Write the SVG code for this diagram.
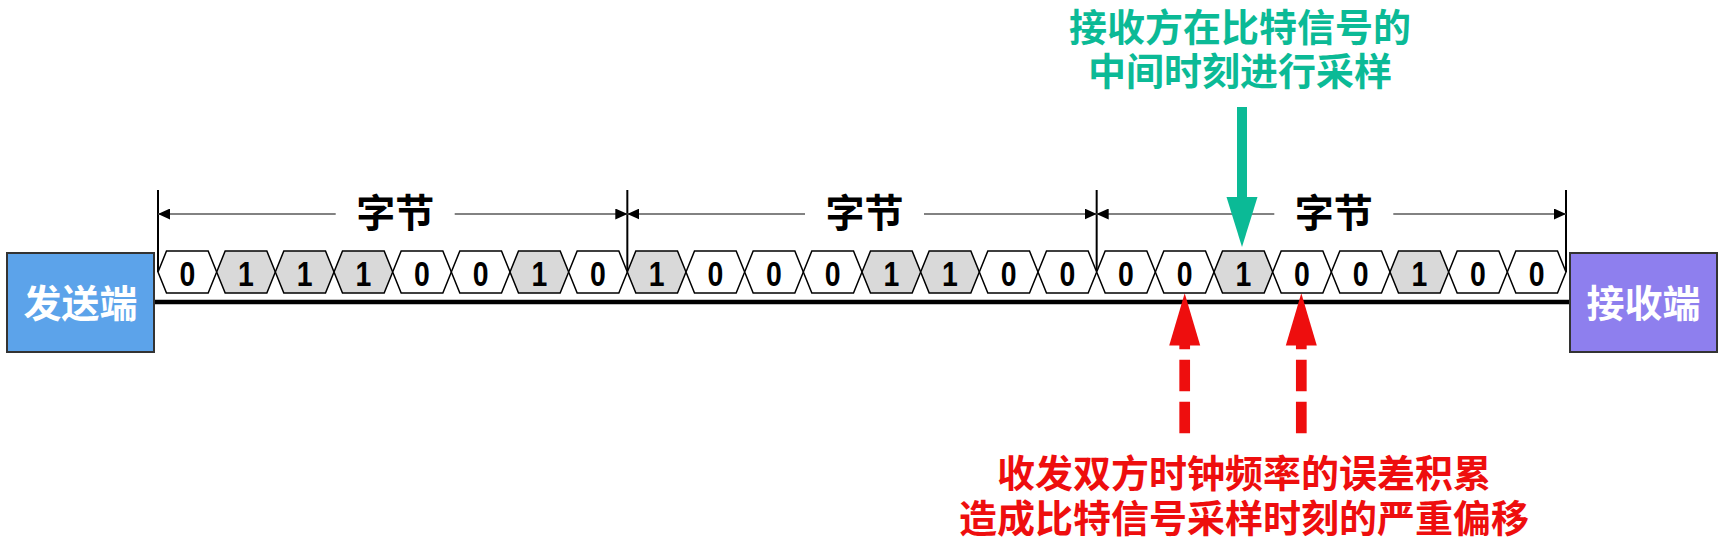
<svg xmlns="http://www.w3.org/2000/svg" xmlns:xlink="http://www.w3.org/1999/xlink" width="1729" height="560" viewBox="0 0 1729 560">
<style>
.cjk{font-family:"Noto Sans CJK SC","Noto Sans CJK TC",sans-serif;font-weight:bold;text-anchor:middle}
.box-t{font-size:38px;fill:#ffffff}
.byte-t{font-size:39px;fill:#000000}
.green-t{font-size:38px;fill:#0BBA96}
.red-t{font-size:38px;fill:#EE0E0E}
.d{font-family:"Liberation Sans",Arial,sans-serif;font-weight:bold;font-size:35.5px;text-anchor:middle;fill:#000}
.h0{fill:#ffffff;stroke:#000;stroke-width:1.5;stroke-linejoin:miter}
.h1{fill:#D9D9D9;stroke:#000;stroke-width:1.5;stroke-linejoin:miter}
.dim{stroke:#595959;stroke-width:1.7;fill:none}
.tick{stroke:#000;stroke-width:2}
</style>
<defs>
<polygon id="hex" points="0,21 8.5,0 50.17,0 58.67,21 50.17,42 8.5,42"/>
<marker id="ah" viewBox="0 0 12 11" refX="12" refY="5.5" markerWidth="12" markerHeight="11" markerUnits="userSpaceOnUse" orient="auto-start-reverse">
<path d="M0,0 L12,5.5 L0,11 z" fill="#000"/>
</marker>
</defs>
<rect width="1729" height="560" fill="#ffffff"/>

<g id="connectors">
<line x1="154" y1="302" x2="1570" y2="302" stroke="#000" stroke-width="4.5"/>
<line class="tick" x1="158" y1="190" x2="158" y2="272"/>
<line class="tick" x1="627.33" y1="190" x2="627.33" y2="272"/>
<line class="tick" x1="1096.67" y1="190" x2="1096.67" y2="272"/>
<line class="tick" x1="1566" y1="190" x2="1566" y2="272"/>
<line class="dim" x1="158" y1="214" x2="335.7" y2="214" marker-start="url(#ah)"/>
<line class="dim" x1="454.7" y1="214" x2="627.33" y2="214" marker-end="url(#ah)"/>
<line class="dim" x1="627.33" y1="214" x2="805" y2="214" marker-start="url(#ah)"/>
<line class="dim" x1="924" y1="214" x2="1096.67" y2="214" marker-end="url(#ah)"/>
<line class="dim" x1="1096.67" y1="214" x2="1274.3" y2="214" marker-start="url(#ah)"/>
<line class="dim" x1="1393.3" y1="214" x2="1566" y2="214" marker-end="url(#ah)"/>
<g id="green-arrow" fill="#0BBA96">
<rect x="1237" y="107" width="10" height="92"/>
<polygon points="1226.5,197 1257.5,197 1242,247"/>
</g>
<g id="red-arrow-1">
<line x1="1184.7" y1="433.3" x2="1184.7" y2="345" stroke="#EE0E0E" stroke-width="10.7" stroke-dasharray="31.5 10.5"/>
<polygon points="1169.2,345.5 1200.2,345.5 1184.7,293.3" fill="#EE0E0E"/>
</g>
<g id="red-arrow-2">
<line x1="1301.3" y1="433.3" x2="1301.3" y2="345" stroke="#EE0E0E" stroke-width="10.7" stroke-dasharray="31.5 10.5"/>
<polygon points="1285.8,345.5 1316.8,345.5 1301.3,293.3" fill="#EE0E0E"/>
</g>
</g>

<g id="sender">
<rect x="7" y="253" width="147" height="99" fill="#5CA3EA" stroke="#333" stroke-width="2"/>
<text class="cjk box-t" x="80.5" y="317">发送端</text>
</g>
<g id="receiver">
<rect x="1570" y="253" width="147" height="99" fill="#8E7FEE" stroke="#333" stroke-width="2"/>
<text class="cjk box-t" x="1643.5" y="317">接收端</text>
</g>

<g id="byte-labels">
<text class="cjk byte-t" x="395.2" y="226.5">字节</text>
<text class="cjk byte-t" x="864.5" y="226.5">字节</text>
<text class="cjk byte-t" x="1333.8" y="226.5">字节</text>
</g>

<g id="bits">
<g id="bit-0"><use href="#hex" xlink:href="#hex" class="h0" x="158" y="251"/><text class="d" transform="translate(187.33,286) scale(0.8,1)">0</text></g>
<g id="bit-1"><use href="#hex" xlink:href="#hex" class="h1" x="216.67" y="251"/><text class="d" transform="translate(246,286) scale(0.8,1)">1</text></g>
<g id="bit-2"><use href="#hex" xlink:href="#hex" class="h1" x="275.33" y="251"/><text class="d" transform="translate(304.67,286) scale(0.8,1)">1</text></g>
<g id="bit-3"><use href="#hex" xlink:href="#hex" class="h1" x="334" y="251"/><text class="d" transform="translate(363.33,286) scale(0.8,1)">1</text></g>
<g id="bit-4"><use href="#hex" xlink:href="#hex" class="h0" x="392.67" y="251"/><text class="d" transform="translate(422,286) scale(0.8,1)">0</text></g>
<g id="bit-5"><use href="#hex" xlink:href="#hex" class="h0" x="451.33" y="251"/><text class="d" transform="translate(480.67,286) scale(0.8,1)">0</text></g>
<g id="bit-6"><use href="#hex" xlink:href="#hex" class="h1" x="510" y="251"/><text class="d" transform="translate(539.33,286) scale(0.8,1)">1</text></g>
<g id="bit-7"><use href="#hex" xlink:href="#hex" class="h0" x="568.67" y="251"/><text class="d" transform="translate(598,286) scale(0.8,1)">0</text></g>
<g id="bit-8"><use href="#hex" xlink:href="#hex" class="h1" x="627.33" y="251"/><text class="d" transform="translate(656.67,286) scale(0.8,1)">1</text></g>
<g id="bit-9"><use href="#hex" xlink:href="#hex" class="h0" x="686" y="251"/><text class="d" transform="translate(715.33,286) scale(0.8,1)">0</text></g>
<g id="bit-10"><use href="#hex" xlink:href="#hex" class="h0" x="744.67" y="251"/><text class="d" transform="translate(774,286) scale(0.8,1)">0</text></g>
<g id="bit-11"><use href="#hex" xlink:href="#hex" class="h0" x="803.33" y="251"/><text class="d" transform="translate(832.67,286) scale(0.8,1)">0</text></g>
<g id="bit-12"><use href="#hex" xlink:href="#hex" class="h1" x="862" y="251"/><text class="d" transform="translate(891.33,286) scale(0.8,1)">1</text></g>
<g id="bit-13"><use href="#hex" xlink:href="#hex" class="h1" x="920.67" y="251"/><text class="d" transform="translate(950,286) scale(0.8,1)">1</text></g>
<g id="bit-14"><use href="#hex" xlink:href="#hex" class="h0" x="979.33" y="251"/><text class="d" transform="translate(1008.67,286) scale(0.8,1)">0</text></g>
<g id="bit-15"><use href="#hex" xlink:href="#hex" class="h0" x="1038" y="251"/><text class="d" transform="translate(1067.33,286) scale(0.8,1)">0</text></g>
<g id="bit-16"><use href="#hex" xlink:href="#hex" class="h0" x="1096.67" y="251"/><text class="d" transform="translate(1126,286) scale(0.8,1)">0</text></g>
<g id="bit-17"><use href="#hex" xlink:href="#hex" class="h0" x="1155.33" y="251"/><text class="d" transform="translate(1184.67,286) scale(0.8,1)">0</text></g>
<g id="bit-18"><use href="#hex" xlink:href="#hex" class="h1" x="1214" y="251"/><text class="d" transform="translate(1243.33,286) scale(0.8,1)">1</text></g>
<g id="bit-19"><use href="#hex" xlink:href="#hex" class="h0" x="1272.67" y="251"/><text class="d" transform="translate(1302,286) scale(0.8,1)">0</text></g>
<g id="bit-20"><use href="#hex" xlink:href="#hex" class="h0" x="1331.33" y="251"/><text class="d" transform="translate(1360.67,286) scale(0.8,1)">0</text></g>
<g id="bit-21"><use href="#hex" xlink:href="#hex" class="h1" x="1390" y="251"/><text class="d" transform="translate(1419.33,286) scale(0.8,1)">1</text></g>
<g id="bit-22"><use href="#hex" xlink:href="#hex" class="h0" x="1448.67" y="251"/><text class="d" transform="translate(1478,286) scale(0.8,1)">0</text></g>
<g id="bit-23"><use href="#hex" xlink:href="#hex" class="h0" x="1507.33" y="251"/><text class="d" transform="translate(1536.67,286) scale(0.8,1)">0</text></g>
</g>

<g id="green-note">
<text class="cjk green-t"><tspan x="1240" y="41.3">接收方在比特信号的</tspan><tspan x="1240" y="84.6">中间时刻进行采样</tspan></text>
</g>
<g id="red-note">
<text class="cjk red-t"><tspan x="1244" y="487">收发双方时钟频率的误差积累</tspan><tspan x="1244" y="532">造成比特信号采样时刻的严重偏移</tspan></text>
</g>
</svg>
